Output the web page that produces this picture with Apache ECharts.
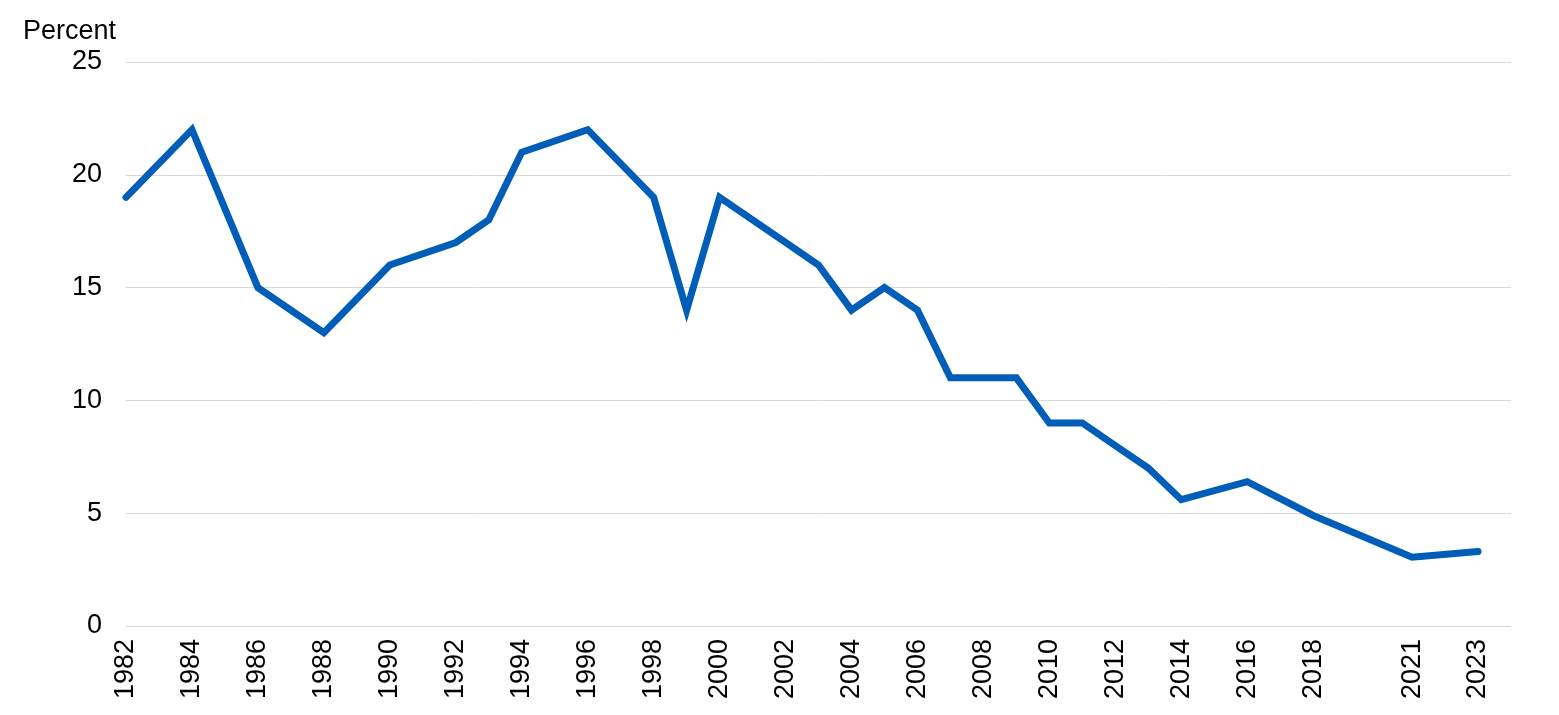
<!DOCTYPE html>
<html>
<head>
<meta charset="utf-8">
<script src="https://cdn.jsdelivr.net/npm/echarts@6/dist/echarts.min.js"></script>
<style>
  html, body { margin: 0; padding: 0; background: #fff; }
  #chart { width: 1559px; height: 715px; }
</style>
</head>
<body>
<div id="chart"></div>
<script>
var years = [1982, 1984, 1986, 1988, 1990, 1992, 1993, 1994, 1996, 1998, 1999, 2000, 2001, 2002, 2003,
             2004, 2005, 2006, 2007, 2008, 2009, 2010, 2011, 2012, 2013, 2014, 2016, 2018, 2021, 2023];
var percent = [19, 22, 15, 13, 16, 17, 18, 21, 22, 19, 14, 19, 18, 17, 16,
               14, 15, 14, 11, 11, 11, 9, 9, 8, 7, 5.6, 6.4, 4.9, 3.05, 3.3];
var yearLabels = [1982, 1984, 1986, 1988, 1990, 1992, 1994, 1996, 1998, 2000, 2002, 2004, 2006,
                  2008, 2010, 2012, 2014, 2016, 2018, 2021, 2023];

var points = [];
for (var i = 0; i < years.length; i++) {
    points.push([years[i], percent[i]]);
}

var chart = echarts.init(document.getElementById('chart'));
var option = {
    animation: false,
    title: {
        text: 'Percent',
        left: 18,
        top: 13,
        textStyle: { fontFamily: 'Liberation Sans', fontSize: 27, fontWeight: 'normal', color: '#000' }
    },
    grid: { left: 126, right: 48, top: 62, bottom: 89 },
    xAxis: {
        type: 'value',
        min: 1982,
        max: 2024,
        interval: 1,
        axisLine: { show: false },
        axisTick: { show: false },
        splitLine: { show: false },
        axisLabel: {
            rotate: 90,
            margin: 13,
            fontFamily: 'Liberation Sans',
            fontSize: 27,
            color: '#000',
            showMaxLabel: false,
            formatter: function (v) {
                return yearLabels.indexOf(v) >= 0 ? String(v) : '';
            }
        }
    },
    yAxis: {
        type: 'value',
        min: 0,
        max: 25,
        interval: 5,
        axisLine: { show: false },
        axisTick: { show: false },
        splitLine: { lineStyle: { color: '#d9d9d9', width: 1 } },
        axisLabel: {
            margin: 24,
            fontFamily: 'Liberation Sans',
            fontSize: 27,
            color: '#000'
        }
    },
    series: [{
        type: 'line',
        data: points,
        showSymbol: false,
        lineStyle: { color: '#005EB8', width: 7, cap: 'round', join: 'miter' }
    }]
};
chart.setOption(option);
</script>
</body>
</html>
